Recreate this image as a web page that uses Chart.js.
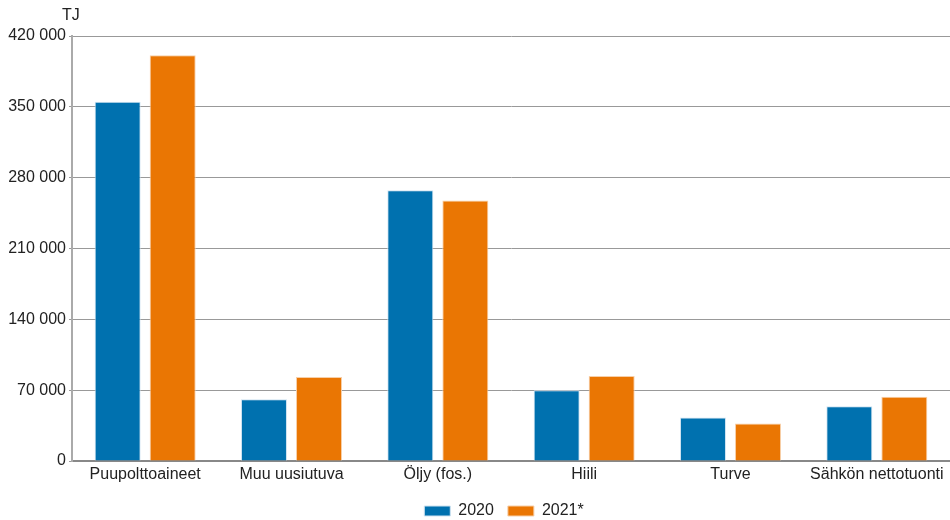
<!DOCTYPE html>
<html>
<head>
<meta charset="utf-8">
<script src="https://cdn.jsdelivr.net/npm/chart.js@4/dist/chart.umd.min.js"></script>
<style>
html,body{margin:0;padding:0;background:#fff;}
#wrap{width:950px;height:520px;position:relative;}
</style>
</head>
<body>
<div id="wrap"><canvas id="c" width="950" height="520"></canvas></div>
<script>
const categories = ["Puupolttoaineet", "Muu uusiutuva", "Öljy (fos.)", "Hiili", "Turve", "Sähkön nettotuonti"];
const values2020 = [355000, 61000, 267500, 70000, 43000, 54000];
const values2021 = [401000, 83000, 257500, 84000, 37000, 63500];
const seriesNames = ["2020", "2021*"];
const yTicks = [0, 70000, 140000, 210000, 280000, 350000, 420000];
const unitLabel = "TJ";

const blue = "#0071AF";
const orange = "#EA7603";
const FONT = "'Liberation Sans', Arial, sans-serif";

function fmt(v){ return String(v).replace(/\B(?=(\d{3})+(?!\d))/g, " "); }

const unitPlugin = {
  id: "unitLabel",
  beforeInit(chart){
    const lg = chart.legend;
    if (lg) {
      const orig = lg.fit;
      lg.fit = function(){ orig.call(this); this.height = 33; };
    }
  },
  afterLayout(chart){
    const lg = chart.legend;
    if (lg) {
      lg.left += 29; lg.right += 29;
      lg.top += 2; lg.bottom += 2;
    }
  },
  afterDraw(chart){
    const ctx = chart.ctx;
    ctx.save();
    ctx.font = "16px " + FONT;
    ctx.fillStyle = "#222";
    ctx.textAlign = "left";
    ctx.textBaseline = "middle";
    ctx.fillText(unitLabel, 62, 16);
    ctx.restore();
  }
};

new Chart(document.getElementById("c"), {
  type: "bar",
  data: {
    labels: categories,
    datasets: [
      { label: seriesNames[0], data: values2020, backgroundColor: blue, borderColor: "#cfe3f1", borderWidth: 1,
        categoryPercentage: 0.752, barPercentage: 0.836 },
      { label: seriesNames[1], data: values2021, backgroundColor: orange, borderColor: "#f7cfa8", borderWidth: 1,
        categoryPercentage: 0.752, barPercentage: 0.836 }
    ]
  },
  options: {
    responsive: false,
    animation: false,
    devicePixelRatio: 1,
    layout: { padding: { top: 36, right: 0, left: 0, bottom: 0 } },
    plugins: {
      legend: {
        position: "bottom",
        labels: {
          boxWidth: 26, boxHeight: 10, padding: 14,
          color: "#222",
          font: { family: FONT, size: 16 }
        }
      },
      tooltip: { enabled: false },
      title: { display: false }
    },
    scales: {
      x: {
        afterFit(scale){ scale.height = 26; },
        grid: { display: false, drawTicks: false },
        border: { display: true, color: "#888", width: 2 },
        ticks: {
          color: "#222", padding: 4,
          font: { family: FONT, size: 16 },
          maxRotation: 0, autoSkip: false
        }
      },
      y: {
        min: 0, max: 420000,
        afterFit(scale){ scale.width = 72; },
        afterBuildTicks(scale){ scale.ticks = yTicks.map(v => ({ value: v })); },
        grid: { color: "#999", lineWidth: 1, drawTicks: true, tickLength: 3 },
        border: { display: true, color: "#aaa", width: 2 },
        ticks: {
          color: "#222", padding: 3,
          font: { family: FONT, size: 16 },
          callback: (v) => fmt(v)
        }
      }
    }
  },
  plugins: [unitPlugin]
});
</script>
</body>
</html>
